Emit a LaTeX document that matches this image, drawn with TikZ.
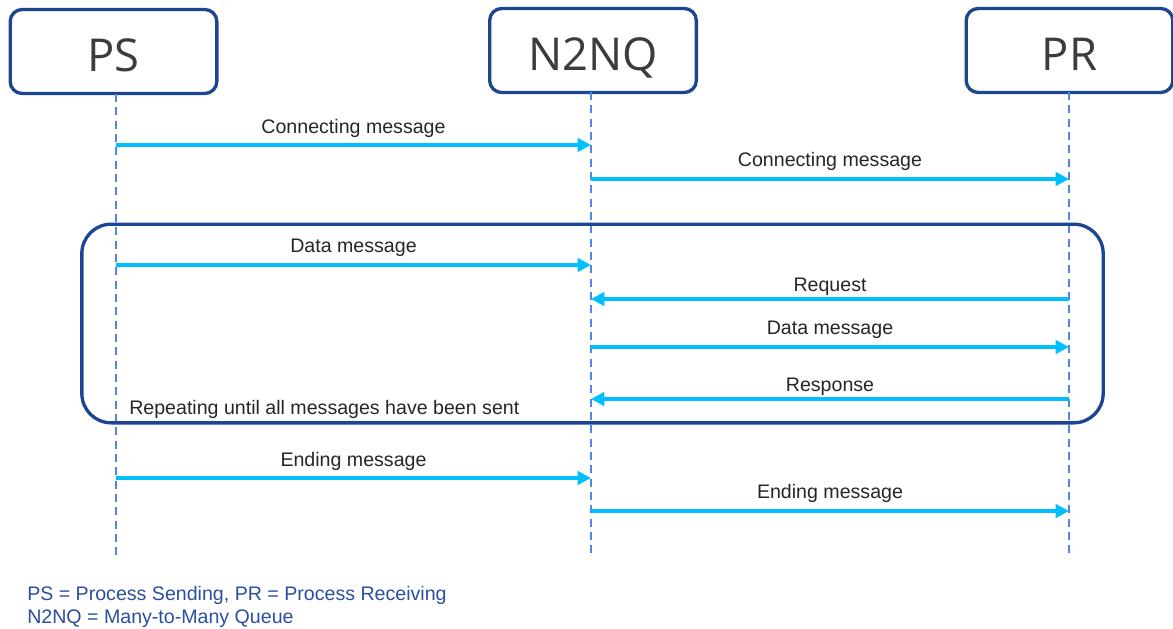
\documentclass[tikz,border=0pt]{standalone}
\usepackage{fontspec}
\setmainfont{Liberation Sans}
\newfontfamily\headfont{Open Sans}
\usetikzlibrary{arrows.meta}
\definecolor{frame}{HTML}{1C4691}
\definecolor{life}{HTML}{4F86E8}
\definecolor{msg}{HTML}{00BFFF}
\definecolor{txt}{HTML}{262626}
\definecolor{legend}{HTML}{2A4FA0}
\tikzset{
  actor/.style={draw=frame, line width=2.5pt, rounded corners=9pt, fill=white,
    minimum width=155pt, minimum height=63pt, text height=30pt, text depth=0pt,
    font=\headfont\fontsize{34}{40}\selectfont, text=txt!90!white},
  lifeline/.style={draw=life, line width=1.5pt, dash pattern=on 6pt off 4pt},
  msgarrow/.style={draw=msg, line width=2.6pt, -{Triangle[length=10pt,width=10pt]}},
  msglabel/.style={font=\fontsize{14.7}{17}\selectfont, text=txt, inner sep=0pt},
  loopbox/.style={draw=frame, line width=2.5pt, rounded corners=22pt}
}
\begin{document}
\begin{tikzpicture}[x=0.75pt,y=-0.75pt]
\useasboundingbox (0,0) rectangle (1173,628);

% participants
\node[actor] (ps) at (113.5,51.5) {PS};
\node[actor] (nq) at (593,50.5) {N2NQ};
\node[actor] (pr) at (1069.5,50.5) {PR};

% lifeline ends
\coordinate (psEnd) at (116,557);
\coordinate (nqEnd) at (591,557);
\coordinate (prEnd) at (1069,557);
\draw[lifeline] (116,94) -- (psEnd);
\draw[lifeline] (591,92) -- (nqEnd);
\draw[lifeline] (1069,92) -- (prEnd);

% loop frame
\node[loopbox, minimum width=766pt, minimum height=149pt, inner sep=0pt] (loop) at (592.5,323.5) {};
\node[msglabel, anchor=base west] (rep) at (129,414) {Repeating until all messages have been sent};

% message anchors on lifelines
\foreach \n/\y in {a/145,b/179,c/265,d/299,e/347,f/399,g/478,h/511}{
  \coordinate (ps\n) at (116,\y);
  \coordinate (nq\n) at (591,\y);
  \coordinate (pr\n) at (1069,\y);
}

% messages
\draw[msgarrow] (psa) -- node[msglabel, above=4pt] (la) {Connecting message} (nqa);
\draw[msgarrow] (nqb) -- node[msglabel, above=4.8pt] (lb) {Connecting message} (prb);
\draw[msgarrow] (psc) -- node[msglabel, above=4.8pt] (lc) {Data message} (nqc);
\draw[msgarrow] (prd) -- node[msglabel, above=1.6pt] (ld) {Request} (nqd);
\draw[msgarrow] (nqe) -- node[msglabel, above=4.8pt] (le) {Data message} (pre);
\draw[msgarrow] (prf) -- node[msglabel, above=1.6pt] (lf) {Response} (nqf);
\draw[msgarrow] (psg) -- node[msglabel, above=4.3pt] (lg) {Ending message} (nqg);
\draw[msgarrow] (nqh) -- node[msglabel, above=4.8pt] (lh) {Ending message} (prh);

% legend
\node[msglabel, text=legend, anchor=base west] (leg1) at (27,600) {PS = Process Sending, PR = Process Receiving};
\node[msglabel, text=legend, anchor=base west] (leg2) at (27,623) {N2NQ = Many-to-Many Queue};
\end{tikzpicture}
\end{document}
